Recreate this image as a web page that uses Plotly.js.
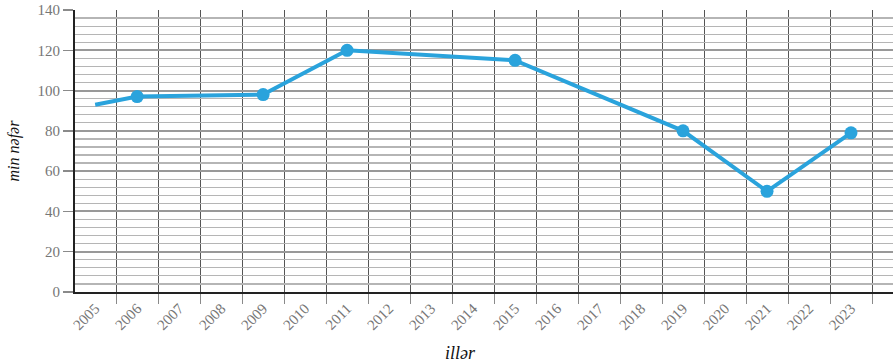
<!DOCTYPE html>
<html>
<head>
<meta charset="utf-8">
<script src="https://cdn.plot.ly/plotly-3.0.1.min.js"></script>
<style>html,body{margin:0;padding:0;background:#fff}#chart{width:893px;height:364px}</style>
</head>
<body>
<div id="chart"></div>
<script>
// Data
const years = [2005, 2006, 2009, 2011, 2015, 2019, 2021, 2023];
const values = [93, 97, 98, 120, 115, 80, 50, 79];
const tickYears = [2005,2006,2007,2008,2009,2010,2011,2012,2013,2014,2015,2016,2017,2018,2019,2020,2021,2022,2023];
const tickLabels = tickYears.map(String);
const yTitle = 'min nəfər';
const xTitle = 'illər';

const blue = '#2aa3dc';
const serif = 'Liberation Serif';
// first point has no visible marker in the reference (line runs off the axis)
const markerSizes = years.map((y, i) => i === 0 ? 0 : 13);

const trace = {
  x: years, y: values, type: 'scatter', mode: 'lines+markers',
  line: {color: blue, width: 4},
  marker: {color: blue, size: markerSizes, opacity: 1, line: {width: 0}},
  cliponaxis: false, hoverinfo: 'x+y'
};

const layout = {
  width: 893, height: 364,
  margin: {l: 75, r: 0, t: 10, b: 72},
  paper_bgcolor: '#fff', plot_bgcolor: '#fff',
  showlegend: false,
  font: {family: serif, color: '#888', size: 13},
  xaxis: {
    type: 'linear', range: [2004.52, 2024.0],
    tickmode: 'array', tickvals: tickYears, ticktext: tickLabels,
    tickangle: -45, ticks: '', showgrid: false, zeroline: false,
    tickfont: {family: serif, size: 15, color: '#767676'},
    showline: true, linecolor: '#222', linewidth: 2,
    minor: {tick0: 2004.5, dtick: 1, showgrid: true, gridcolor: '#555', gridwidth: 1,
            ticks: 'outside', ticklen: 10, tickcolor: '#8a8a8a', tickwidth: 1}
  },
  yaxis: {
    range: [0, 140], dtick: 20, tick0: 0,
    ticks: 'outside', ticklen: 10, tickcolor: '#8a8a8a', tickwidth: 1.5,
    tickfont: {family: serif, size: 15, color: '#767676'},
    showgrid: true, gridcolor: '#999', gridwidth: 2, zeroline: false,
    showline: true, linecolor: '#222', linewidth: 2,
    minor: {dtick: 4, tick0: 0, showgrid: true, gridcolor: '#b5b5b5', gridwidth: 1.2},
    title: {text: yTitle, standoff: 14, font: {family: serif, size: 16, color: '#111', style: 'italic'}}
  },
  annotations: [{
    text: xTitle, xref: 'paper', yref: 'paper', x: (460 - 75) / 818, y: -0.215,
    xanchor: 'center', yanchor: 'middle', showarrow: false,
    font: {family: serif, size: 18, color: '#111', style: 'italic'}
  }]
};

Plotly.newPlot('chart', [trace], layout, {displayModeBar: false, staticPlot: true});
</script>
</body>
</html>
